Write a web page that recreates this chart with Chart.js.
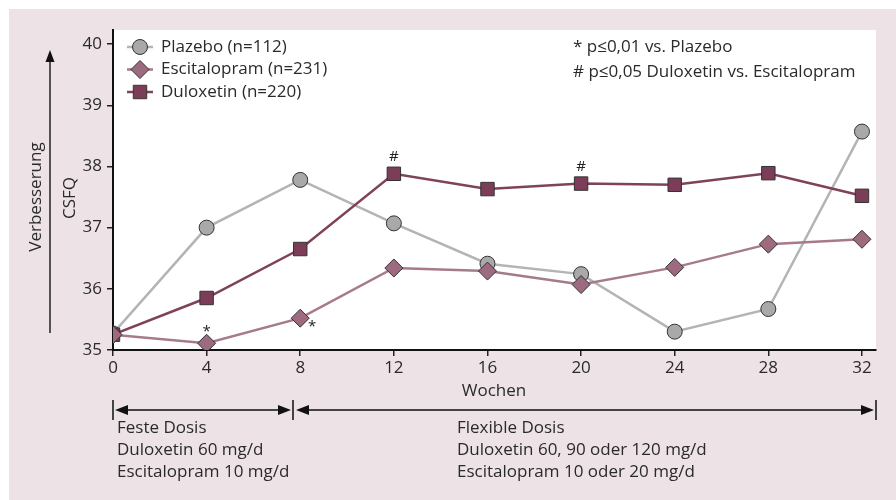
<!DOCTYPE html>
<html>
<head>
<meta charset="utf-8">
<script src="https://cdn.jsdelivr.net/npm/chart.js@4"></script>
<style>
  html, body { margin: 0; padding: 0; background: #fff; }
  #wrap { width: 896px; height: 500px; }
</style>
</head>
<body>
<div id="wrap"><canvas id="chart" width="896" height="500"></canvas></div>
<script>
// Wochen / CSFQ-Werte
const weeks = [0, 4, 8, 12, 16, 20, 24, 28, 32];
const xTicks = [0, 4, 8, 12, 16, 20, 24, 28, 32];
const yTicks = [35, 36, 37, 38, 39, 40];

const plazebo = [35.27, 37.0, 37.78, 37.07, 36.41, 36.24, 35.3, 35.67, 38.57];
const escitalopram = [35.25, 35.11, 35.52, 36.34, 36.29, 36.07, 36.35, 36.73, 36.81];
const duloxetin = [35.25, 35.85, 36.65, 37.88, 37.63, 37.72, 37.70, 37.89, 37.52];

const legendLabels = ['Plazebo (n=112)', 'Escitalopram (n=231)', 'Duloxetin (n=220)'];
const noteLines = ['* p\u22640,01 vs. Plazebo', '# p\u22640,05 Duloxetin vs. Escitalopram'];

// Signifikanz-Markierungen (Datensatz, Woche, Zeichen)
const marks = [
    { set: 1, week: 4, text: '*', dx: 0, dy: -12 },
    { set: 1, week: 8, text: '*', dx: 12, dy: 9 },
    { set: 2, week: 12, text: '#', dx: 0, dy: -17 },
    { set: 2, week: 20, text: '#', dx: 0, dy: -17 }
];

const fixedText = ['Feste Dosis', 'Duloxetin 60 mg/d', 'Escitalopram 10 mg/d'];
const flexText = ['Flexible Dosis', 'Duloxetin 60, 90 oder 120 mg/d', 'Escitalopram 10 oder 20 mg/d'];

const FONT = '"Open Sans", "Noto Sans", sans-serif';
Chart.defaults.font.family = FONT;
Chart.defaults.color = '#2a2a2a';

function toPoints(values) {
    return weeks.map((w, i) => ({ x: w, y: values[i] }));
}

function arrowHead(ctx, x, y, dir) {
    // dir: 1 = nach rechts, -1 = nach links, 0 = nach oben
    ctx.beginPath();
    if (dir === 0) {
        ctx.moveTo(x, y);
        ctx.lineTo(x - 4.5, y + 12);
        ctx.lineTo(x + 4.5, y + 12);
    } else {
        ctx.moveTo(x, y);
        ctx.lineTo(x - dir * 13, y - 5);
        ctx.lineTo(x - dir * 13, y + 5);
    }
    ctx.closePath();
    ctx.fill();
}

const decorations = {
    id: 'decorations',
    beforeDraw(chart) {
        const ctx = chart.ctx;
        const a = chart.chartArea;
        ctx.save();
        ctx.fillStyle = '#ede3e7';
        ctx.fillRect(9, 9, chart.width - 9, chart.height - 9);
        ctx.fillStyle = '#ffffff';
        ctx.fillRect(a.left, a.top, a.right - a.left, a.bottom - a.top);
        ctx.restore();
    },
    afterDatasetsDraw(chart) {
        const ctx = chart.ctx;
        const xs = chart.scales.x;
        const ys = chart.scales.y;
        ctx.save();

        // Sternchen / Rauten
        ctx.fillStyle = '#222';
        ctx.textAlign = 'center';
        ctx.textBaseline = 'middle';
        ctx.font = '15px ' + FONT;
        marks.forEach(m => {
            const ds = chart.data.datasets[m.set];
            const idx = weeks.indexOf(m.week);
            const px = xs.getPixelForValue(m.week) + m.dx;
            const py = ys.getPixelForValue(ds.data[idx].y) + m.dy;
            ctx.fillText(m.text, px, py);
        });

        // Legende
        ctx.textAlign = 'left';
        ctx.font = '17px ' + FONT;
        const order = [0, 1, 2];
        order.forEach((di, row) => {
            const ds = chart.data.datasets[di];
            const y = 47 + row * 22.5;
            ctx.strokeStyle = ds.borderColor;
            ctx.lineWidth = ds.borderWidth;
            ctx.beginPath();
            ctx.moveTo(127, y);
            ctx.lineTo(153, y);
            ctx.stroke();
            ctx.fillStyle = ds.pointBackgroundColor;
            ctx.strokeStyle = ds.pointBorderColor;
            ctx.lineWidth = ds.pointBorderWidth;
            Chart.helpers.drawPoint(ctx, { pointStyle: ds.pointStyle, radius: ds.pointRadius, borderWidth: ds.pointBorderWidth, rotation: 0 }, 140, y);
            ctx.fillStyle = '#2a2a2a';
            ctx.fillText(legendLabels[row], 161, y);
        });

        // Hinweise rechts oben
        noteLines.forEach((t, i) => ctx.fillText(t, 573, 47 + i * 25));
        ctx.restore();
    },
    afterDraw(chart) {
        const ctx = chart.ctx;
        ctx.save();
        ctx.fillStyle = '#2a2a2a';
        ctx.font = '17px ' + FONT;

        // Achsentitel
        ctx.textAlign = 'center';
        ctx.textBaseline = 'middle';
        ctx.fillText('Wochen', 494, 391);
        ctx.save();
        ctx.translate(70, 198);
        ctx.rotate(-Math.PI / 2);
        ctx.fillText('CSFQ', 0, 0);
        ctx.restore();
        ctx.save();
        ctx.translate(36, 197);
        ctx.rotate(-Math.PI / 2);
        ctx.fillText('Verbesserung', 0, 0);
        ctx.restore();

        // Pfeil "Verbesserung"
        ctx.strokeStyle = '#222';
        ctx.lineWidth = 1.5;
        ctx.beginPath();
        ctx.moveTo(50, 333);
        ctx.lineTo(50, 60);
        ctx.stroke();
        ctx.fillStyle = '#111';
        arrowHead(ctx, 50, 50, 0);

        // Zeitleiste unten
        const ty = 410;
        ctx.strokeStyle = '#444';
        ctx.lineWidth = 2;
        ctx.beginPath();
        ctx.moveTo(113, 400); ctx.lineTo(113, 420);
        ctx.moveTo(293, 400); ctx.lineTo(293, 420);
        ctx.moveTo(876, 400); ctx.lineTo(876, 420);
        ctx.moveTo(125, ty); ctx.lineTo(280, ty);
        ctx.moveTo(308, ty); ctx.lineTo(862, ty);
        ctx.stroke();
        ctx.fillStyle = '#111';
        arrowHead(ctx, 115, ty, -1);
        arrowHead(ctx, 291, ty, 1);
        arrowHead(ctx, 296, ty, -1);
        arrowHead(ctx, 874, ty, 1);

        ctx.fillStyle = '#2a2a2a';
        ctx.textAlign = 'left';
        ctx.textBaseline = 'alphabetic';
        fixedText.forEach((t, i) => ctx.fillText(t, 117, 433 + i * 22));
        flexText.forEach((t, i) => ctx.fillText(t, 457, 433 + i * 22));
        ctx.restore();
    }
};

new Chart(document.getElementById('chart'), {
    type: 'line',
    data: {
        datasets: [
            {
                label: 'Plazebo',
                data: toPoints(plazebo),
                borderColor: '#b4b4b4',
                borderWidth: 2.5,
                pointStyle: 'circle',
                pointRadius: 7.5,
                pointBackgroundColor: '#a9a9a9',
                pointBorderColor: '#333',
                pointBorderWidth: 1,
                order: 2
            },
            {
                label: 'Escitalopram',
                data: toPoints(escitalopram),
                borderColor: '#a67a8b',
                borderWidth: 2.5,
                pointStyle: 'rectRot',
                pointRadius: 9,
                pointBackgroundColor: '#9d6a7f',
                pointBorderColor: '#333',
                pointBorderWidth: 1,
                order: 0
            },
            {
                label: 'Duloxetin',
                data: toPoints(duloxetin),
                borderColor: '#7e4259',
                borderWidth: 2.5,
                pointStyle: 'rect',
                pointRadius: 9.5,
                pointBackgroundColor: '#7b3d58',
                pointBorderColor: '#333',
                pointBorderWidth: 1,
                order: 1
            }
        ]
    },
    options: {
        responsive: false,
        animation: false,
        layout: { padding: { top: 30, right: 20, left: 0, bottom: 110 } },
        plugins: { legend: { display: false }, tooltip: { enabled: false } },
        elements: { line: { tension: 0 } },
        scales: {
            x: {
                type: 'linear',
                min: 0,
                max: 32.6,
                afterBuildTicks: s => { s.ticks = xTicks.map(v => ({ value: v })); },
                afterFit: s => { s.height = 40; },
                grid: { drawOnChartArea: false, drawTicks: true, tickLength: 6, color: '#222', lineWidth: 1.5 },
                border: { display: true, color: '#111', width: 2 },
                ticks: { font: { size: 17 }, color: '#2a2a2a', padding: 2, maxRotation: 0 }
            },
            y: {
                min: 35,
                max: 40.23,
                afterBuildTicks: s => { s.ticks = yTicks.map(v => ({ value: v })); },
                afterFit: s => { s.width = 113; },
                grid: { drawOnChartArea: false, drawTicks: true, tickLength: 6, color: '#222', lineWidth: 1.5 },
                border: { display: true, color: '#111', width: 2 },
                ticks: { font: { size: 17 }, color: '#2a2a2a', padding: 5 }
            }
        }
    },
    plugins: [decorations]
});
</script>
</body>
</html>
